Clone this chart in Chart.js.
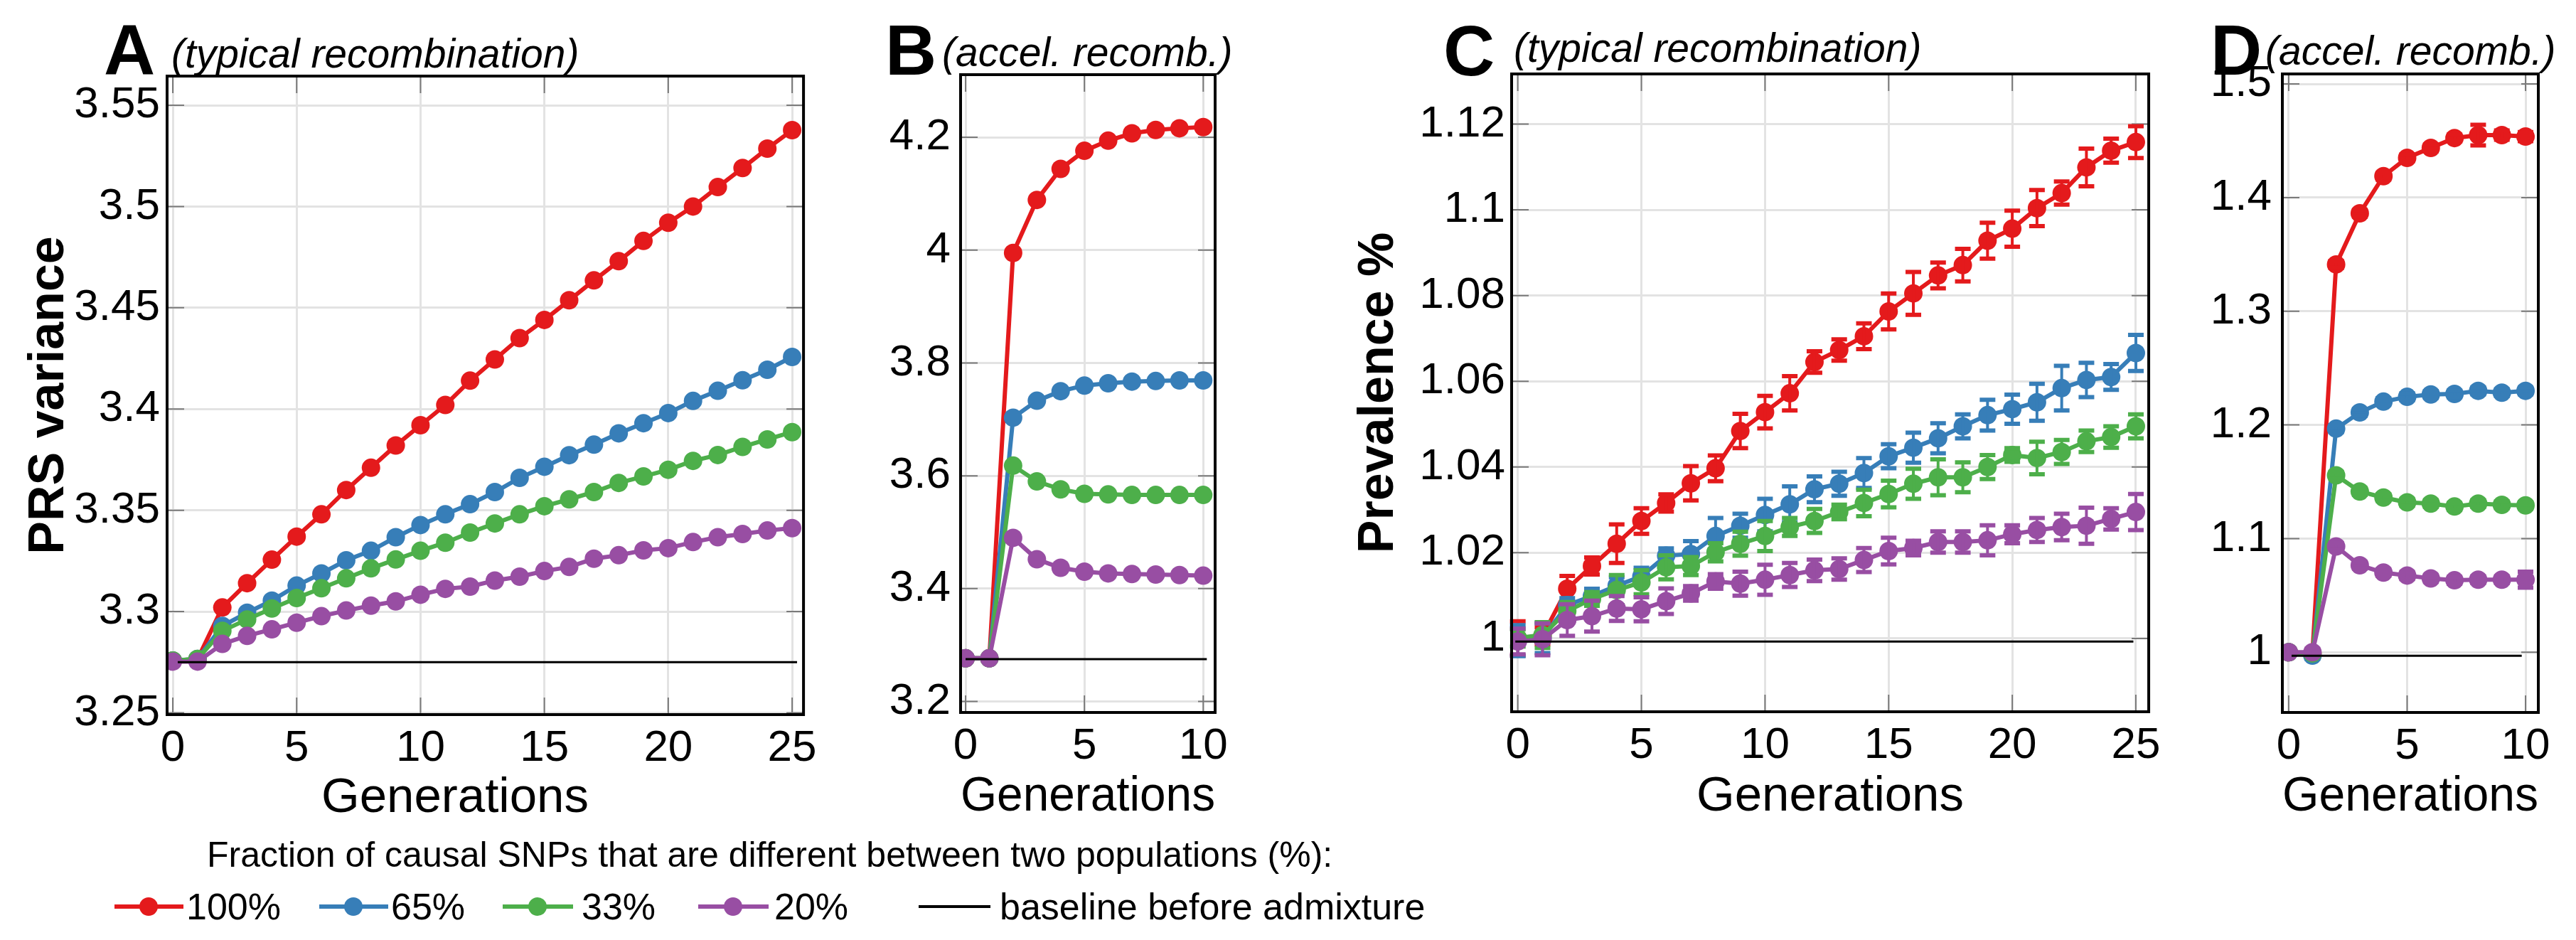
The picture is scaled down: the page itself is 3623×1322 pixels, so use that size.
<!DOCTYPE html>
<html>
<head>
<meta charset="utf-8">
<script src="https://cdn.jsdelivr.net/npm/chart.js@4.4.0/dist/chart.umd.min.js"></script>
<style>
  body { margin: 0; background: #fff; width: 3623px; height: 1322px; position: relative; overflow: hidden;
         font-family: 'Liberation Sans', Arial, sans-serif; color: #000; }
  canvas { position: absolute; top: 0; }
  .txt { position: absolute; line-height: 1; white-space: nowrap; }
  .letter { font-size: 100px; font-weight: bold; }
  .sub { font-size: 57px; font-style: italic; }
  .leg { font-size: 52px; }
</style>
</head>
<body>
<canvas id="chartA" width="1160" height="1170" style="left:0px;width:1160px;height:1170px"></canvas>
<canvas id="chartB" width="580" height="1170" style="left:1160px;width:580px;height:1170px"></canvas>
<canvas id="chartC" width="1200" height="1170" style="left:1850px;width:1200px;height:1170px"></canvas>
<canvas id="chartD" width="573" height="1170" style="left:3050px;width:573px;height:1170px"></canvas>

<div class="txt letter" style="left:146px;top:20px">A</div>
<div class="txt sub" style="left:241px;top:47px">(typical recombination)</div>
<div class="txt letter" style="left:1245px;top:20px">B</div>
<div class="txt sub" style="left:1325px;top:45px">(accel. recomb.)</div>
<div class="txt letter" style="left:2030px;top:21px">C</div>
<div class="txt sub" style="left:2129px;top:39px">(typical recombination)</div>
<div class="txt letter" style="left:3109px;top:20px">D</div>
<div class="txt sub" style="left:3186px;top:43px">(accel. recomb.)</div>
<!-- panel A's x title sits left of the plot centre in the original -->
<div class="txt" style="left:452px;top:1084px;font-size:69px">Generations</div>

<div class="txt" style="left:291px;top:1177px;font-size:50px">Fraction of causal SNPs that are different between two populations (%):</div>
<svg style="position:absolute;left:0;top:1250px" width="1420" height="50">
  <line x1="161" y1="25" x2="258" y2="25" stroke="#e41a1c" stroke-width="6"/><circle cx="209" cy="25" r="13" fill="#e41a1c"/>
  <line x1="449" y1="25" x2="546" y2="25" stroke="#377eb8" stroke-width="6"/><circle cx="497" cy="25" r="13" fill="#377eb8"/>
  <line x1="707" y1="25" x2="806" y2="25" stroke="#4daf4a" stroke-width="6"/><circle cx="756" cy="25" r="13" fill="#4daf4a"/>
  <line x1="982" y1="25" x2="1081" y2="25" stroke="#984ea3" stroke-width="6"/><circle cx="1031" cy="25" r="13" fill="#984ea3"/>
  <line x1="1292" y1="25" x2="1393" y2="25" stroke="#000" stroke-width="4"/>
</svg>
<div class="txt leg" style="left:262px;top:1249px">100%</div>
<div class="txt leg" style="left:550px;top:1249px">65%</div>
<div class="txt leg" style="left:818px;top:1249px">33%</div>
<div class="txt leg" style="left:1089px;top:1249px">20%</div>
<div class="txt leg" style="left:1406px;top:1249px">baseline before admixture</div>

<script>
// generations on the x axis
const gensTypical = [0, 1, 2, 3, 4, 5, 6, 7, 8, 9, 10, 11, 12, 13, 14, 15, 16, 17, 18, 19, 20, 21, 22, 23, 24, 25];
const gensAccel = [0, 1, 2, 3, 4, 5, 6, 7, 8, 9, 10];

// A: PRS variance, typical recombination
const varA_100 = [3.2758, 3.2765, 3.302, 3.314, 3.3256, 3.337, 3.348, 3.360, 3.371, 3.382, 3.392, 3.402, 3.414, 3.4245, 3.435, 3.444, 3.4537, 3.4635, 3.473, 3.483, 3.492, 3.500, 3.5096, 3.519, 3.5286, 3.5377];
const varA_65 = [3.2758, 3.2766, 3.2929, 3.2994, 3.3054, 3.3128, 3.3188, 3.3253, 3.330, 3.3367, 3.3427, 3.348, 3.353, 3.359, 3.366, 3.3715, 3.3772, 3.3824, 3.388, 3.393, 3.398, 3.404, 3.409, 3.4142, 3.4194, 3.4257];
const varA_33 = [3.2758, 3.2766, 3.2904, 3.2961, 3.3015, 3.3067, 3.3115, 3.3164, 3.3213, 3.3257, 3.330, 3.334, 3.339, 3.3435, 3.348, 3.352, 3.3554, 3.359, 3.3635, 3.3667, 3.370, 3.3744, 3.3773, 3.3813, 3.385, 3.3886];
const varA_20 = [3.2753, 3.2753, 3.284, 3.288, 3.2912, 3.2945, 3.2977, 3.3005, 3.3029, 3.305, 3.3083, 3.3112, 3.3123, 3.3153, 3.3172, 3.320, 3.322, 3.3261, 3.3278, 3.3302, 3.3313, 3.3343, 3.3367, 3.3383, 3.340, 3.3412];
const baseA = 3.275;
const baseA_x = [0.2, 25.2];

// B: PRS variance, accelerated recombination
const varB_100 = [3.2765, 3.2765, 3.995, 4.089, 4.144, 4.176, 4.194, 4.207, 4.213, 4.216, 4.218];
const varB_65 = [3.2765, 3.2765, 3.703, 3.733, 3.750, 3.760, 3.764, 3.767, 3.768, 3.769, 3.769];
const varB_33 = [3.2765, 3.2765, 3.618, 3.590, 3.576, 3.568, 3.567, 3.566, 3.566, 3.566, 3.566];
const varB_20 = [3.2765, 3.2765, 3.490, 3.452, 3.437, 3.430, 3.427, 3.426, 3.425, 3.424, 3.423];
const baseB = 3.275;
const baseB_x = [0, 10.15];

// C: prevalence %, typical recombination (with error bars)
const prevC_100 = [1.0000, 1.0006, 1.0116, 1.0169, 1.0221, 1.0274, 1.0316, 1.0362, 1.0397, 1.0484, 1.0528, 1.0572, 1.0645, 1.0673, 1.0705, 1.0763, 1.0805, 1.0847, 1.0871, 1.0928, 1.0956, 1.1004, 1.1039, 1.1099, 1.1138, 1.1158];
const prevC_65 = [0.9995, 1.0001, 1.0078, 1.0099, 1.0123, 1.0145, 1.0193, 1.0197, 1.0239, 1.0263, 1.0288, 1.0313, 1.0348, 1.0361, 1.0386, 1.0425, 1.0445, 1.0467, 1.0495, 1.0521, 1.0535, 1.0551, 1.0584, 1.0603, 1.0610, 1.0666];
const prevC_33 = [1.0001, 1.0008, 1.0064, 1.0092, 1.0113, 1.0131, 1.0166, 1.0169, 1.0201, 1.0221, 1.0239, 1.0260, 1.0274, 1.0295, 1.0316, 1.0337, 1.0361, 1.0376, 1.0376, 1.0400, 1.0428, 1.0421, 1.0435, 1.0460, 1.0470, 1.0495];
const prevC_20 = [0.9993, 0.9998, 1.0043, 1.0052, 1.0070, 1.0068, 1.0087, 1.0105, 1.0133, 1.0128, 1.0137, 1.0148, 1.0159, 1.0162, 1.0183, 1.0204, 1.0211, 1.0225, 1.0225, 1.0229, 1.0243, 1.0253, 1.0260, 1.0263, 1.0279, 1.0295];
const errC_100 = [0.0040, 0.0020, 0.0030, 0.0020, 0.0045, 0.0030, 0.0020, 0.0040, 0.0030, 0.0040, 0.0038, 0.0040, 0.0025, 0.0025, 0.0030, 0.0042, 0.0050, 0.0030, 0.0038, 0.0042, 0.0042, 0.0042, 0.0027, 0.0044, 0.0028, 0.0037];
const errC_65 = [0.0036, 0.0035, 0.0016, 0.0017, 0.0020, 0.0020, 0.0017, 0.0030, 0.0042, 0.0028, 0.0038, 0.0042, 0.0030, 0.0028, 0.0035, 0.0028, 0.0035, 0.0035, 0.0028, 0.0036, 0.0034, 0.0043, 0.0052, 0.0040, 0.0030, 0.0042];
const errC_33 = [0.0020, 0.0030, 0.0021, 0.0016, 0.0035, 0.0028, 0.0028, 0.0021, 0.0021, 0.0028, 0.0035, 0.0021, 0.0028, 0.0017, 0.0031, 0.0031, 0.0035, 0.0042, 0.0035, 0.0028, 0.0016, 0.0038, 0.0028, 0.0025, 0.0025, 0.0028];
const errC_20 = [0.0030, 0.0037, 0.0037, 0.0036, 0.0029, 0.0028, 0.0030, 0.0017, 0.0017, 0.0028, 0.0035, 0.0028, 0.0025, 0.0025, 0.0028, 0.0031, 0.0017, 0.0025, 0.0025, 0.0035, 0.0021, 0.0028, 0.0031, 0.0042, 0.0025, 0.0042];
const baseC = 0.9993;
const baseC_x = [-0.1, 24.9];

// D: prevalence %, accelerated recombination
const prevD_100 = [1.0, 0.999, 1.3412, 1.3862, 1.4189, 1.435, 1.4437, 1.4524, 1.455, 1.455, 1.4537];
const prevD_65 = [1.0, 0.997, 1.1967, 1.211, 1.2205, 1.2247, 1.2268, 1.2273, 1.2300, 1.2284, 1.2300];
const prevD_33 = [1.0, 0.999, 1.1556, 1.1414, 1.1361, 1.1319, 1.1308, 1.1282, 1.1308, 1.1297, 1.1292];
const prevD_20 = [1.0, 1.0, 1.0931, 1.0765, 1.0701, 1.0675, 1.0649, 1.0633, 1.0638, 1.0638, 1.0638];
const errD_100 = [0.003, 0.003, 0.003, 0.003, 0.003, 0.003, 0.003, 0.003, 0.009, 0.004, 0.004];
const errD_65 = [0.003, 0.003, 0.003, 0.003, 0.003, 0.003, 0.003, 0.003, 0.003, 0.003, 0.003];
const errD_33 = [0.003, 0.003, 0.003, 0.003, 0.003, 0.003, 0.003, 0.003, 0.003, 0.003, 0.003];
const errD_20 = [0.003, 0.003, 0.003, 0.003, 0.003, 0.003, 0.003, 0.003, 0.003, 0.003, 0.007];
const baseD = 0.9969;
const baseD_x = [0.12, 9.84];

// ticks
const xTicksTypical = [0, 5, 10, 15, 20, 25];
const xLabelsTypical = ['0', '5', '10', '15', '20', '25'];
const xTicksAccel = [0, 5, 10];
const xLabelsAccel = ['0', '5', '10'];
const yTicksA = [3.25, 3.3, 3.35, 3.4, 3.45, 3.5, 3.55];
const yLabelsA = ['3.25', '3.3', '3.35', '3.4', '3.45', '3.5', '3.55'];
const yTicksB = [3.2, 3.4, 3.6, 3.8, 4.0, 4.2];
const yLabelsB = ['3.2', '3.4', '3.6', '3.8', '4', '4.2'];
const yTicksC = [1.0, 1.02, 1.04, 1.06, 1.08, 1.1, 1.12];
const yLabelsC = ['1', '1.02', '1.04', '1.06', '1.08', '1.1', '1.12'];
const yTicksD = [1.0, 1.1, 1.2, 1.3, 1.4, 1.5];
const yLabelsD = ['1', '1.1', '1.2', '1.3', '1.4', '1.5'];

const colors = ['#e41a1c', '#377eb8', '#4daf4a', '#984ea3'];
const fontFamily = "'Liberation Sans', Arial, sans-serif";
Chart.defaults.font.family = fontFamily;
Chart.defaults.color = '#000';

function seriesSet(gens, values, color, order, errors) {
  return {
    data: gens.map((g, i) => ({ x: g, y: values[i] })),
    borderColor: color,
    backgroundColor: color,
    pointBackgroundColor: color,
    borderWidth: 6,
    pointRadius: 13,
    pointBorderWidth: 0,
    tension: 0,
    order: order,
    errors: errors
  };
}

function baselineSet(xs, y) {
  return {
    data: xs.map(x => ({ x: x, y: y })),
    borderColor: '#000',
    borderWidth: 3,
    pointRadius: 0,
    order: 0
  };
}

// error bars drawn right after their own series
const errorBars = {
  id: 'errorBars',
  afterDatasetDraw(chart, args) {
    const ds = chart.data.datasets[args.index];
    if (!ds.errors) return;
    const ctx = chart.ctx, x = chart.scales.x, y = chart.scales.y;
    ctx.save();
    ctx.strokeStyle = ds.borderColor;
    ds.data.forEach((pt, i) => {
      const px = x.getPixelForValue(pt.x);
      const top = y.getPixelForValue(pt.y + ds.errors[i]);
      const bot = y.getPixelForValue(pt.y - ds.errors[i]);
      ctx.lineWidth = 4;
      ctx.beginPath();
      ctx.moveTo(px, top);
      ctx.lineTo(px, bot);
      ctx.stroke();
      ctx.lineWidth = 6;
      ctx.beginPath();
      ctx.moveTo(px - 11, top); ctx.lineTo(px + 11, top);
      ctx.moveTo(px - 11, bot); ctx.lineTo(px + 11, bot);
      ctx.stroke();
    });
    ctx.restore();
  }
};

// box around the plot and the small inward tick marks
const frame = {
  id: 'frame',
  beforeDatasetsDraw(chart) {
    const ctx = chart.ctx, a = chart.chartArea, x = chart.scales.x, y = chart.scales.y;
    const len = 24;
    ctx.save();
    ctx.strokeStyle = '#7a7a7a';
    ctx.lineWidth = 2;
    ctx.beginPath();
    x.ticks.forEach(t => {
      const px = x.getPixelForValue(t.value);
      ctx.moveTo(px, a.top); ctx.lineTo(px, a.top + len);
      ctx.moveTo(px, a.bottom); ctx.lineTo(px, a.bottom - len);
    });
    y.ticks.forEach(t => {
      const py = y.getPixelForValue(t.value);
      ctx.moveTo(a.left, py); ctx.lineTo(a.left + len, py);
      ctx.moveTo(a.right, py); ctx.lineTo(a.right - len, py);
    });
    ctx.stroke();
    ctx.restore();
  },
  afterDraw(chart) {
    const ctx = chart.ctx, a = chart.chartArea;
    ctx.save();
    ctx.strokeStyle = '#000';
    ctx.lineWidth = 4;
    ctx.strokeRect(a.left, a.top, a.right - a.left, a.bottom - a.top);
    ctx.restore();
  }
};

function makePanel(id, p) {
  return new Chart(document.getElementById(id), {
    type: 'line',
    data: { datasets: p.datasets },
    options: {
      responsive: false,
      animation: false,
      devicePixelRatio: 1,
      layout: { padding: { left: 0, top: p.top, right: p.right, bottom: 0 } },
      plugins: { legend: { display: false }, tooltip: { enabled: false } },
      scales: {
        x: {
          type: 'linear',
          min: p.xMin, max: p.xMax,
          afterBuildTicks: ax => { ax.ticks = p.xTicks.map(v => ({ value: v })); },
          afterFit: ax => { ax.height = p.xAxisH; },
          grid: { color: '#e3e3e3', lineWidth: 3, drawTicks: false },
          border: { display: false },
          ticks: { padding: 11, autoSkip: false, maxRotation: 0, font: { size: 62 },
                   callback: (v, i) => p.xLabels[i] },
          title: { display: p.xTitle !== false, text: 'Generations', font: { size: 69 }, padding: { top: 0, bottom: 8 } }
        },
        y: {
          type: 'linear',
          min: p.yMin, max: p.yMax,
          afterBuildTicks: ax => { ax.ticks = p.yTicks.map(v => ({ value: v })); },
          afterFit: ax => { ax.width = p.yAxisW; },
          grid: { color: '#e3e3e3', lineWidth: 3, drawTicks: false },
          border: { display: false },
          ticks: { padding: p.yPad, autoSkip: false, font: { size: 62 },
                   callback: (v, i) => p.yLabels[i] },
          title: { display: !!p.yTitle, text: p.yTitle || '', font: { size: 70, weight: 'bold' },
                   padding: { top: p.yTitlePad || 0, bottom: 0 } }
        }
      }
    },
    plugins: [frame, errorBars]
  });
}

makePanel('chartA', {
  top: 107, right: 25, yAxisW: 235, xAxisH: 165, yPad: 10,
  xMin: -0.23, xMax: 25.46, yMin: 3.2491, yMax: 3.5644,
  xTicks: xTicksTypical, xLabels: xLabelsTypical, yTicks: yTicksA, yLabels: yLabelsA,
  xTitle: false, yTitle: 'PRS variance', yTitlePad: 28,
  datasets: [
    seriesSet(gensTypical, varA_100, colors[0], 4),
    seriesSet(gensTypical, varA_65, colors[1], 3),
    seriesSet(gensTypical, varA_33, colors[2], 2),
    seriesSet(gensTypical, varA_20, colors[3], 1),
    baselineSet(baseA_x, baseA)
  ]
});

makePanel('chartB', {
  top: 105, right: 31, yAxisW: 191, xAxisH: 168, yPad: 14,
  xMin: -0.21, xMax: 10.5, yMin: 3.1805, yMax: 4.311,
  xTicks: xTicksAccel, xLabels: xLabelsAccel, yTicks: yTicksB, yLabels: yLabelsB,
  datasets: [
    seriesSet(gensAccel, varB_100, colors[0], 4),
    seriesSet(gensAccel, varB_65, colors[1], 3),
    seriesSet(gensAccel, varB_33, colors[2], 2),
    seriesSet(gensAccel, varB_20, colors[3], 1),
    baselineSet(baseB_x, baseB)
  ]
});

makePanel('chartC', {
  top: 104, right: 27, yAxisW: 276, xAxisH: 169, yPad: 9,
  xMin: -0.25, xMax: 25.52, yMin: 0.9829, yMax: 1.1317,
  xTicks: xTicksTypical, xLabels: xLabelsTypical, yTicks: yTicksC, yLabels: yLabelsC,
  yTitle: 'Prevalence %', yTitlePad: 48,
  datasets: [
    seriesSet(gensTypical, prevC_100, colors[0], 4, errC_100),
    seriesSet(gensTypical, prevC_65, colors[1], 3, errC_65),
    seriesSet(gensTypical, prevC_33, colors[2], 2, errC_33),
    seriesSet(gensTypical, prevC_20, colors[3], 1, errC_20),
    baselineSet(baseC_x, baseC)
  ]
});

makePanel('chartD', {
  top: 104, right: 53, yAxisW: 160, xAxisH: 168, yPad: 15,
  xMin: -0.27, xMax: 10.54, yMin: 0.947, yMax: 1.5088,
  xTicks: xTicksAccel, xLabels: xLabelsAccel, yTicks: yTicksD, yLabels: yLabelsD,
  datasets: [
    seriesSet(gensAccel, prevD_100, colors[0], 4, errD_100),
    seriesSet(gensAccel, prevD_65, colors[1], 3, errD_65),
    seriesSet(gensAccel, prevD_33, colors[2], 2, errD_33),
    seriesSet(gensAccel, prevD_20, colors[3], 1, errD_20),
    baselineSet(baseD_x, baseD)
  ]
});
</script>
</body>
</html>
